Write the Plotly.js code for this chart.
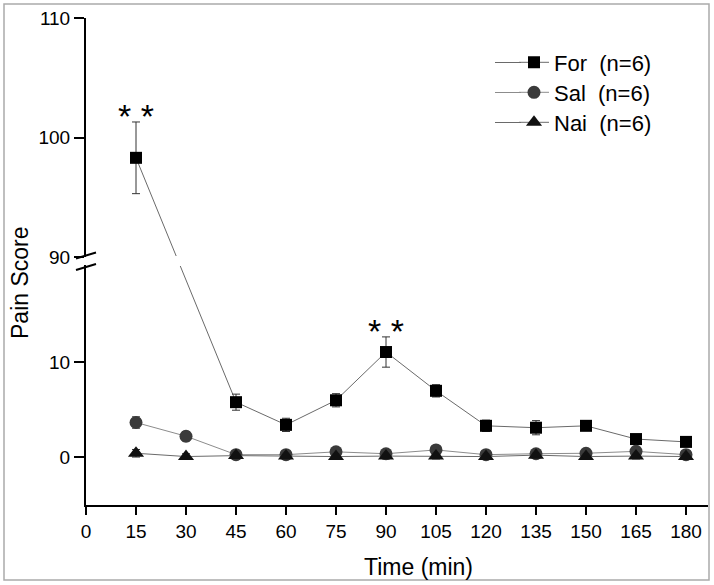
<!DOCTYPE html>
<html>
<head>
<meta charset="utf-8">
<script src="https://cdn.plot.ly/plotly-3.0.1.min.js"></script>
<style>html,body{margin:0;padding:0;background:#fff;}#chart{width:714px;height:585px;}</style>
</head>
<body>
<div id="chart"></div>
<script>
// ---- data ----
const timeTicks = [0, 15, 30, 45, 60, 75, 90, 105, 120, 135, 150, 165, 180];
const forTime = [15, 45, 60, 75, 90, 105, 120, 135, 150, 165, 180];
const forMean = [98.3, 5.8, 3.4, 6.0, 11.1, 7.0, 3.3, 3.1, 3.3, 1.9, 1.6];
const forErr  = [3.0, 0.85, 0.7, 0.7, 1.6, 0.65, 0.6, 0.75, 0.3, 0.3, 0.2];
const salTime = [15, 30, 45, 60, 75, 90, 105, 120, 135, 150, 165, 180];
const salMean = [3.65, 2.2, 0.25, 0.25, 0.55, 0.35, 0.75, 0.25, 0.35, 0.4, 0.6, 0.25];
const salErr  = [0.6, 0.5, 0.3, 0.3, 0.3, 0.3, 0.3, 0.3, 0.3, 0.3, 0.3, 0.3];
const naiTime = [15, 30, 45, 60, 75, 90, 105, 120, 135, 150, 165, 180];
const naiMean = [0.4, 0.05, 0.15, 0.1, 0.05, 0.1, 0.1, 0.05, 0.2, 0.05, 0.1, 0.05];
const naiErr  = [0.4, 0.3, 0.4, 0.3, 0.3, 0.3, 0.3, 0.3, 0.3, 0.3, 0.3, 0.3];
const seriesNames = ['For\u00a0\u00a0(n=6)', 'Sal\u00a0\u00a0(n=6)', 'Nai\u00a0\u00a0(n=6)'];
const lowTicks = [0, 10];
const highTicks = [90, 100, 110];
const sigTimes = [15, 90];

// ---- geometry ----
const W = 714, H = 585;
const ML = 86, MR = 6, MT = 18, MB = 80;
const plotH = H - MT - MB, plotW = W - ML - MR;
const py = p => (H - MB - p) / plotH;      // pixel y -> paper
const px = p => (p - ML) / plotW;          // pixel x -> paper
const lowDom = [0, py(265)];
const highDom = [py(257), 1];
const lowRange = [-5.07, 20.3];
const highRange = [90, 110];
const xRange = [0, 186.6];

const FONT = 'Liberation Sans, Arial, sans-serif';
const lineCol = '#6a6a6a';
const salLineCol = '#8c8c8c';

// split For into the upper (broken) and lower parts
const isHigh = v => v >= highRange[0];
const forHi = {x: [], y: [], e: []}, forLo = {x: [], y: [], e: []};
forTime.forEach((t, i) => {
  const tgt = isHigh(forMean[i]) ? forHi : forLo;
  tgt.x.push(t); tgt.y.push(forMean[i]); tgt.e.push(forErr[i]);
});

const eb = arr => ({type: 'data', array: arr, visible: true, color: '#333', thickness: 1, width: 4});

const traces = [
  {x: forLo.x, y: forLo.y, error_y: eb(forLo.e), name: seriesNames[0], xaxis: 'x', yaxis: 'y',
   mode: 'lines+markers', line: {color: lineCol, width: 1}, legend: 'legend',
   marker: {symbol: 'square', size: 12, color: '#000'}, legendgroup: 'f'},
  {x: forHi.x, y: forHi.y, error_y: eb(forHi.e), name: seriesNames[0], xaxis: 'x', yaxis: 'y2',
   mode: 'lines+markers', line: {color: lineCol, width: 1}, showlegend: false,
   marker: {symbol: 'square', size: 12, color: '#000'}, legendgroup: 'f'},
  {x: salTime, y: salMean, error_y: eb(salErr), name: seriesNames[1], xaxis: 'x', yaxis: 'y',
   mode: 'lines+markers', line: {color: salLineCol, width: 1}, legend: 'legend2',
   marker: {symbol: 'circle', size: 13, color: '#3a3a3a'}},
  {x: naiTime, y: naiMean, error_y: eb(naiErr), name: seriesNames[2], xaxis: 'x', yaxis: 'y',
   mode: 'lines+markers', line: {color: lineCol, width: 1}, legend: 'legend3',
   marker: {symbol: 'triangle-up', size: 14, color: '#111'}}
];

// connector between upper and lower panels (computed from data through the axis mapping)
const paperLow = v => lowDom[0] + (lowDom[1] - lowDom[0]) * (v - lowRange[0]) / (lowRange[1] - lowRange[0]);
const paperHigh = v => highDom[0] + (highDom[1] - highDom[0]) * (v - highRange[0]) / (highRange[1] - highRange[0]);
const shapes = [];
for (let i = 0; i < forTime.length - 1; i++) {
  const a = forMean[i], b = forMean[i + 1];
  if (isHigh(a) !== isHigh(b)) {
    const ya = isHigh(a) ? paperHigh(a) : paperLow(a);
    const yb = isHigh(b) ? paperHigh(b) : paperLow(b);
    const xa = forTime[i], xb = forTime[i + 1];
    const gTop = py(256), gBot = py(266);
    const tAt = y => (y - ya) / (yb - ya);
    const t1 = tAt(isHigh(a) ? gTop : gBot), t2 = tAt(isHigh(a) ? gBot : gTop);
    shapes.push({type: 'line', xref: 'x', yref: 'paper', x0: xa, y0: ya, x1: xa + t1 * (xb - xa), y1: ya + t1 * (yb - ya), line: {color: lineCol, width: 1}, layer: 'below'});
    shapes.push({type: 'line', xref: 'x', yref: 'paper', x0: xa + t2 * (xb - xa), y0: ya + t2 * (yb - ya), x1: xb, y1: yb, line: {color: lineCol, width: 1}, layer: 'below'});
  }
}
// axis break marks
shapes.push({type: 'line', xref: 'paper', yref: 'paper', x0: px(76), y0: py(258.5), x1: px(96), y1: py(252.5), line: {color: '#000', width: 2}});
shapes.push({type: 'line', xref: 'paper', yref: 'paper', x0: px(76), y0: py(270), x1: px(96), y1: py(264), line: {color: '#000', width: 2}});
// outer frame
shapes.push({type: 'rect', xref: 'paper', yref: 'paper', x0: px(4), x1: px(709), y0: py(580), y1: py(4), line: {color: '#aaaaaa', width: 1.5}});

// legend rows (one legend per series so rows sit where the reference has them)
const legRows = [62.5, 92.5, 122.5];
const legLineCols = [lineCol, salLineCol, lineCol];
const legendOf = k => ({x: px(514), y: py(legRows[k] - 21), xanchor: 'left', yanchor: 'top', bgcolor: 'rgba(0,0,0,0)',
  font: {family: FONT, size: 22, color: '#000'}, borderwidth: 0});
legRows.forEach((r, k) => {
  shapes.push({type: 'line', xref: 'paper', yref: 'paper', x0: px(495), x1: px(521), y0: py(r), y1: py(r), line: {color: legLineCols[k], width: 1}});
});

// significance marks
const annotations = [];
sigTimes.forEach(t => {
  const i = forTime.indexOf(t);
  const v = forMean[i] + forErr[i];
  annotations.push({x: t, y: v, xref: 'x', yref: isHigh(forMean[i]) ? 'y2' : 'y', text: '* *',
    showarrow: false, yanchor: 'middle', yshift: 6, font: {family: FONT, size: 34, color: '#000'}});
});
annotations.push({xref: 'paper', yref: 'paper', x: px(20), y: py(283), text: 'Pain Score', textangle: -90,
  showarrow: false, xanchor: 'center', yanchor: 'middle', font: {family: FONT, size: 23, color: '#000'}});
annotations.push({xref: 'paper', yref: 'paper', x: px(418), y: py(567), text: 'Time (min)',
  showarrow: false, xanchor: 'center', yanchor: 'middle', font: {family: FONT, size: 23, color: '#000'}});

const axCommon = {showline: true, linewidth: 2, linecolor: '#000', ticks: 'outside', tickwidth: 2, tickcolor: '#000',
  showgrid: false, zeroline: false, tickfont: {family: FONT, size: 19, color: '#000'}};

const layout = {
  width: W, height: H,
  margin: {l: ML, r: MR, t: MT, b: MB, pad: 0},
  paper_bgcolor: '#fff', plot_bgcolor: '#fff',
  showlegend: true,
  legend: legendOf(0), legend2: legendOf(1), legend3: legendOf(2),
  xaxis: Object.assign({}, axCommon, {range: xRange, tickvals: timeTicks, ticklen: 8, anchor: 'y'}),
  yaxis: Object.assign({}, axCommon, {domain: lowDom, range: lowRange, tickvals: lowTicks, ticklen: 10, anchor: 'x'}),
  yaxis2: Object.assign({}, axCommon, {domain: highDom, range: highRange, tickvals: highTicks, ticklen: 10, anchor: 'x'}),
  shapes: shapes,
  annotations: annotations
};

Plotly.newPlot('chart', traces, layout, {staticPlot: true, displayModeBar: false});
</script>
</body>
</html>
